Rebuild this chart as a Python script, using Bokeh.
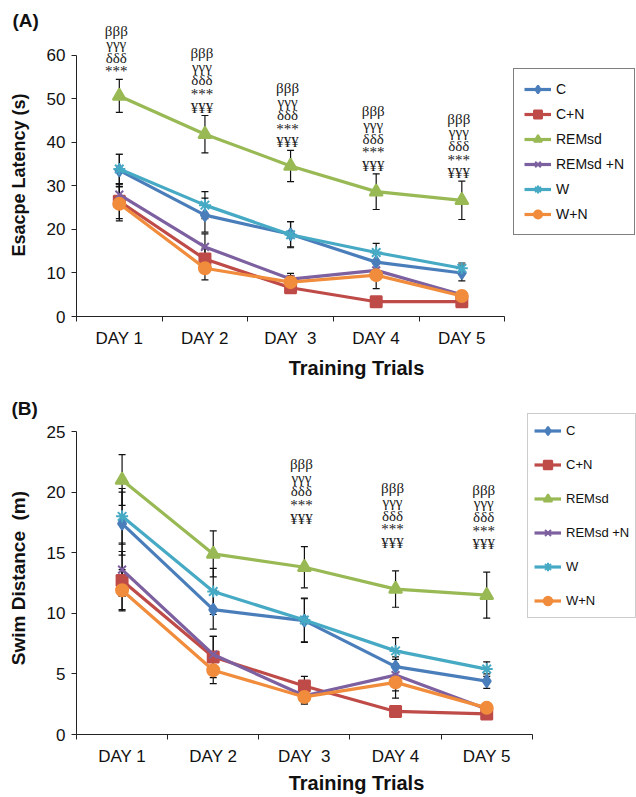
from bokeh.plotting import figure
from bokeh.models import (Range1d, FixedTicker, Legend, LegendItem,
                          ColumnDataSource, Whisker, TeeHead)
from bokeh.layouts import column
from bokeh.embed import file_html
from bokeh.resources import INLINE
from bokeh.core.properties import value

# ---------------- data ----------------
day_labels = ["DAY 1", "DAY 2", "DAY \u00a03", "DAY 4", "DAY 5"]
day_pos = [1, 2, 3, 4, 5]
groups = ["C", "C+N", "REMsd", "REMsd +N", "W", "W+N"]

# Panel A: escape latency (s)
lat_C = [33.6, 23.3, 18.9, 12.5, 10.0]
lat_CN = [26.5, 13.2, 6.6, 3.4, 3.4]
lat_REMsd = [50.7, 41.9, 34.6, 28.7, 26.7]
lat_REMsdN = [28.0, 16.0, 8.6, 10.6, 5.0]
lat_W = [33.9, 25.6, 18.8, 14.7, 11.1]
lat_WN = [25.9, 11.1, 7.9, 9.5, 4.7]

lat_err_C = [3.7, 3.9, 2.9, 2.0, 1.8]
lat_err_CN = [4.0, 2.5, 1.0, 0.8, 0.5]
lat_err_REMsd = [3.8, 4.3, 3.6, 4.1, 4.4]
lat_err_REMsdN = [2.5, 3.0, 1.3, 1.5, 0.6]
lat_err_W = [3.4, 3.1, 3.0, 2.1, 1.2]
lat_err_WN = [3.9, 2.7, 1.5, 3.1, 0.5]

# Panel B: swim distance (m)
dist_C = [17.4, 10.3, 9.4, 5.6, 4.4]
dist_CN = [12.7, 6.4, 4.0, 1.9, 1.7]
dist_REMsd = [21.0, 14.9, 13.8, 12.0, 11.5]
dist_REMsdN = [13.6, 6.6, 3.2, 4.9, 2.1]
dist_W = [18.0, 11.8, 9.45, 6.9, 5.4]
dist_WN = [11.9, 5.3, 3.1, 4.3, 2.2]

dist_err_C = [2.6, 1.6, 1.8, 0.8, 0.6]
dist_err_CN = [2.4, 1.7, 0.8, 0.3, 0.3]
dist_err_REMsd = [2.1, 1.9, 1.7, 1.5, 1.9]
dist_err_REMsdN = [2.2, 1.5, 0.6, 1.3, 0.3]
dist_err_W = [2.3, 1.9, 1.8, 1.1, 0.6]
dist_err_WN = [1.7, 1.1, 0.6, 1.3, 0.3]

sig_A = ["βββ\nγγγ\nδδδ\n***", "βββ\nγγγ\nδδδ\n***\n¥¥¥", "βββ\nγγγ\nδδδ\n***\n¥¥¥",
         "βββ\nγγγ\nδδδ\n***\n¥¥¥", "βββ\nγγγ\nδδδ\n***\n¥¥¥"]
sig_B_days = [3, 4, 5]
sig_B = ["βββ\nγγγ\nδδδ\n***\n¥¥¥", "βββ\nγγγ\nδδδ\n***\n¥¥¥", "βββ\nγγγ\nδδδ\n***\n¥¥¥"]

colors = ["#4A7EBB", "#BE4B48", "#98B954", "#7D60A0", "#46AAC5", "#F08C3B"]
markers = ["diamond", "square", "triangle", "x", "asterisk", "circle"]
msizes = [12, 11, 13, 11, 12, 12]

SANS = "Liberation Sans"
SERIF = "Liberation Serif"
NB = "\u00a0"


def make_panel(tag, means, errs, ylabel, ylabel_size, yend, ymax, ytick_step,
               xend, height, border_top, border_bottom, sig_x, sig_text, sig_y,
               sig_offset, legend_loc, legend_spacing, legend_padding,
               legend_glyph_h, legend_border, legend_font, lab_std, ax_std,
               tag_offset, tag_standoff):
    p = figure(width=636, height=height, output_backend="svg",
               toolbar_location=None,
               x_range=Range1d(0.5, xend), y_range=Range1d(0, yend),
               min_border_left=76, min_border_right=0,
               min_border_top=border_top, min_border_bottom=border_bottom)
    p.outline_line_color = None
    p.xgrid.visible = False
    p.ygrid.visible = False
    p.background_fill_color = "white"

    # panel tag "(A)" / "(B)" as the plot title
    p.title.text = tag
    p.title.align = "left"
    p.title.offset = tag_offset
    p.title.standoff = tag_standoff
    p.title.text_font = SANS
    p.title.text_font_style = "bold"
    p.title.text_font_size = "19px"
    p.title.text_color = "#111111"

    items = []
    for name, m, e, c, mk, ms in zip(groups, means, errs, colors, markers, msizes):
        src = ColumnDataSource(dict(x=day_pos, y=m,
                                    lo=[a - b for a, b in zip(m, e)],
                                    hi=[a + b for a, b in zip(m, e)]))
        ln = p.line("x", "y", source=src, line_color=c, line_width=3.2)
        sc = p.scatter("x", "y", source=src, marker=mk, size=ms,
                       fill_color=c, line_color=c, line_width=2)
        w = Whisker(source=src, base="x", upper="hi", lower="lo",
                    line_color="#111111", line_width=1.2,
                    upper_head=TeeHead(size=7, line_color="#111111", line_width=1.2),
                    lower_head=TeeHead(size=7, line_color="#111111", line_width=1.2))
        p.add_layout(w)
        items.append(LegendItem(label=name, renderers=[ln, sc]))

    tsrc = ColumnDataSource(dict(x=sig_x, y=sig_y, t=sig_text))
    p.text("x", "y", text="t", source=tsrc, text_font=value(SERIF),
           text_font_size="15px", text_align="center", text_baseline="bottom",
           text_line_height=0.85, text_color="#1a1a1a", y_offset=sig_offset,
           x_offset=-3)

    leg = Legend(items=items, location=legend_loc, orientation="vertical",
                 glyph_width=27, glyph_height=legend_glyph_h,
                 label_height=legend_glyph_h,
                 label_standoff=5, spacing=legend_spacing,
                 padding=legend_padding, margin=0,
                 border_line_color=legend_border, border_line_width=1,
                 background_fill_alpha=1.0,
                 label_text_font=SANS, label_text_font_size=legend_font,
                 label_text_color="#111111")
    p.add_layout(leg)

    # x axis
    xa = p.xaxis[0]
    xa.ticker = FixedTicker(ticks=day_pos,
                            minor_ticks=[0.5, 1.5, 2.5, 3.5, 4.5, 5.5])
    xa.major_label_overrides = {float(d): l for d, l in zip(day_pos, day_labels)}
    xa.bounds = (0.5, 5.5)
    xa.major_tick_out = 0
    xa.major_tick_in = 0
    xa.minor_tick_out = 5
    xa.minor_tick_in = 0
    xa.minor_tick_line_color = "#222222"
    xa.axis_line_color = "#222222"
    xa.major_label_text_font = SANS
    xa.major_label_text_font_size = "17px"
    xa.major_label_text_color = "#111111"
    xa.major_label_standoff = lab_std
    xa.axis_label = "Training Trials"
    xa.axis_label_text_font = SANS
    xa.axis_label_text_font_style = "bold"
    xa.axis_label_text_font_size = "20px"
    xa.axis_label_text_color = "#111111"
    xa.axis_label_standoff = ax_std

    # y axis
    ya = p.yaxis[0]
    ya.ticker = FixedTicker(ticks=list(range(0, ymax + 1, ytick_step)))
    ya.bounds = (0, ymax)
    ya.major_tick_out = 5
    ya.major_tick_in = 0
    ya.minor_tick_line_color = None
    ya.axis_line_color = "#222222"
    ya.major_tick_line_color = "#222222"
    ya.major_label_text_font = SANS
    ya.major_label_text_font_size = "17px"
    ya.major_label_text_color = "#111111"
    ya.major_label_standoff = 6
    ya.axis_label = ylabel
    ya.axis_label_text_font = SANS
    ya.axis_label_text_font_style = "bold"
    ya.axis_label_text_font_size = ylabel_size
    ya.axis_label_text_color = "#111111"
    ya.axis_label_standoff = 15
    return p


sigA_y = [a + b for a, b in zip(lat_REMsd, lat_err_REMsd)]
sigB_y = [dist_REMsd[d - 1] + dist_err_REMsd[d - 1] for d in sig_B_days]

pA = make_panel("(A)",
                [lat_C, lat_CN, lat_REMsd, lat_REMsdN, lat_W, lat_WN],
                [lat_err_C, lat_err_CN, lat_err_REMsd, lat_err_REMsdN, lat_err_W, lat_err_WN],
                "Esacpe Latency (s)" + NB * 5, "18px", 70.8, 60, 10, 7.04,
                393, 8, 77, day_pos, sig_A, sigA_y, 0,
                (437, 81), 5, 10, 20, "#000000", "14px", 7, 6, -64, -45)

pB = make_panel("(B)",
                [dist_C, dist_CN, dist_REMsd, dist_REMsdN, dist_W, dist_WN],
                [dist_err_C, dist_err_CN, dist_err_REMsd, dist_err_REMsdN, dist_err_W, dist_err_WN],
                "Swim Distance " + NB + "(m)" + NB * 4, "19px", 27.56, 25, 5, 6.643,
                403, 7, 57, sig_B_days, sig_B, sigB_y, -20,
                (451, 116), 13, 6, 21, "#9a9a9a", "13px", 7, 3, -65, -37)

layout = column(pA, pB)
open("out.html", "w").write(file_html(layout, INLINE))
